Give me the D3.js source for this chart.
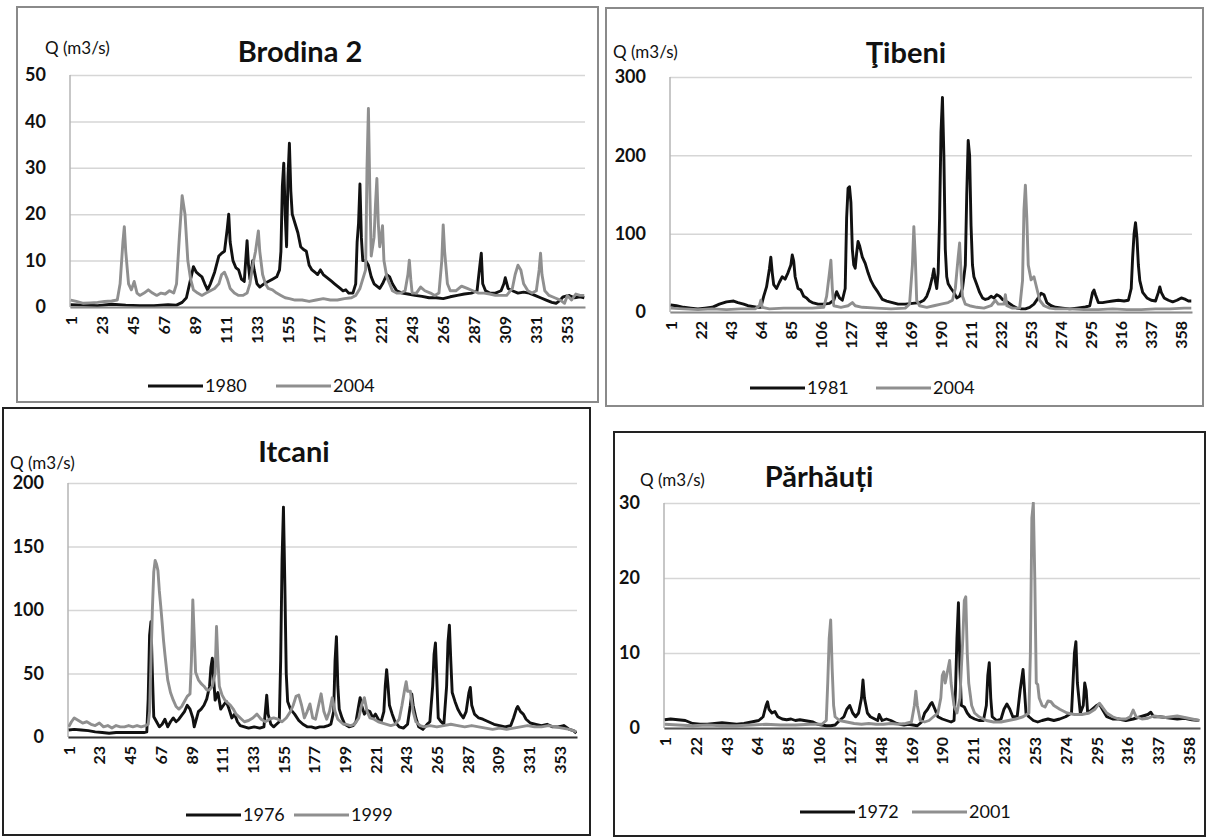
<!DOCTYPE html>
<html><head><meta charset="utf-8">
<script src="https://cdn.jsdelivr.net/npm/d3@7"></script>
<style>body{margin:0;background:#fff}</style>
</head><body>
<svg id="c" width="1207" height="837"></svg>
<script>
// ---------------- DATA (day of year, discharge m3/s) ----------------
const ticksA = [1,23,45,67,89,111,133,155,177,199,221,243,265,287,309,331,353];
const ticksB = [1,22,43,64,85,106,127,148,169,190,211,232,253,274,295,316,337,358];
const yTicksBrodina = [0,10,20,30,40,50];
const yTicksTibeni = [0,100,200,300];
const yTicksItcani = [0,50,100,150,200];
const yTicksParhauti = [0,10,20,30];

const brodina1980 = [[1,0.5],[10,0.4],[20,0.3],[30,0.6],[40,0.4],[50,0.3],[60,0.3],[70,0.5],[76,0.4],[80,1],[83,2],[86,6],[88,8.7],[90,7.5],[92,7],[94,6.5],[96,5],[98,3.7],[100,5],[103,7.5],[106,11],[108,11.6],[110,12],[112,17],[113,20],[114,14],[116,10],[118,8.5],[120,8],[122,6],[124,5.5],[126,14.3],[127,9],[128,6],[130,10],[131,8],[133,5],[135,4.3],[138,5],[141,5.5],[144,6],[147,6.5],[149,8],[150,12],[151,26],[152,31],[153,20],[154,13],[155,28],[156,35.3],[157,25],[158,20],[160,18],[162,16],[164,13],[166,12.4],[168,12],[170,9],[172,8],[174,7.5],[176,7],[178,8],[180,7],[182,6.5],[184,6],[186,5.5],[188,5],[190,4.5],[192,4],[194,3.5],[196,3.7],[198,3],[201,3],[203,5],[204,14],[205,18],[206,26.5],[207,15],[208,10],[210,10],[212,9],[214,6.5],[216,5],[218,4.5],[220,4],[222,5],[225,7],[227,6.5],[229,5],[232,3.5],[236,3],[240,2.8],[245,2.5],[250,2.3],[255,2],[260,2],[265,1.8],[270,2.2],[275,2.5],[280,2.8],[285,3],[289,3.5],[291,9],[292,11.6],[293,5],[295,3.5],[298,3],[302,3],[306,3.5],[308,5],[309,6.3],[311,4],[314,3.5],[318,3],[322,3.2],[326,3],[330,2.5],[334,2],[338,1.5],[342,1],[345,0.8],[348,1.5],[350,2.2],[354,2.5],[358,2],[362,2.2],[365,2]];
const brodina2004 = [[1,1.5],[5,1.2],[10,0.8],[15,0.9],[20,1],[25,1.2],[30,1.3],[34,1.5],[36,5],[38,14],[39,17.3],[40,12],[42,5],[44,3.7],[46,5.5],[48,3],[50,2.5],[53,3],[56,3.7],[59,3],[62,2.5],[65,3],[68,2.8],[71,3.5],[74,3],[76,5],[78,15],[80,24],[82,20],[84,10],[86,6],[88,3.7],[91,3],[94,2.5],[97,3],[100,3.5],[103,4],[106,5],[108,7],[110,7.5],[112,6],[114,4],[117,3],[120,2.5],[123,2.5],[126,3],[128,5],[130,9],[132,12],[134,16.4],[135,12],[137,7],[139,5],[141,4],[144,3.7],[147,3],[150,2.5],[153,2],[156,1.8],[160,1.5],[165,1.5],[170,1.2],[175,1.5],[180,1.8],[185,1.5],[190,1.5],[195,1.8],[200,2],[203,2.5],[206,4],[210,8],[211,30],[212,42.8],[213,25],[214,11],[216,15],[217,22],[218,27.7],[219,18],[220,13],[221,15],[222,17.5],[223,10],[225,6.5],[227,5],[229,3.5],[232,3],[235,3],[238,3.5],[240,7],[241,10.1],[242,6],[243,3],[246,3],[249,4.3],[252,3.5],[256,3],[259,2.5],[262,3],[264,10],[265,17.7],[266,12],[268,5],[270,3.5],[274,3.5],[278,4.5],[282,4],[286,3.5],[290,3],[294,3],[298,2.8],[302,2.5],[306,2.5],[310,2.5],[314,4],[316,7],[318,9],[320,8],[322,5],[325,3.5],[328,3],[331,3.5],[333,8],[334,11.6],[335,7],[337,3.5],[340,2.5],[344,2],[348,1.5],[351,0.8],[353,2.5],[356,1.5],[359,2.8],[362,2.5],[365,2.5]];

const tibeni1981 = [[1,9],[5,8],[10,6],[15,5],[20,4],[25,5],[30,6],[35,10],[40,13],[45,14],[48,12],[52,10],[55,8],[58,7],[61,6],[64,6],[66,20],[68,32],[70,55],[71,70],[72,50],[73,35],[75,30],[77,38],[79,45],[81,42],[83,50],[85,60],[86,72.8],[87,65],[88,45],[90,30],[92,28],[94,20],[96,18],[98,14],[100,12],[104,10],[108,10],[112,11],[115,15],[117,26],[119,18],[121,15],[123,30],[124,120],[125,158],[126,160],[127,140],[128,80],[129,60],[130,56],[131,75],[132,90],[133,85],[135,70],[137,62],[139,50],[141,40],[143,33],[146,25],[149,16],[152,14],[156,12],[160,10],[165,10],[170,11],[175,12],[178,15],[180,20],[182,30],[184,45],[185,55],[186,40],[187,30],[188,50],[189,120],[190,230],[191,274],[192,200],[193,80],[194,45],[195,36],[197,30],[199,25],[201,18],[203,20],[205,30],[207,60],[208,150],[209,219],[210,200],[211,110],[212,60],[213,45],[215,35],[217,25],[219,18],[221,16],[223,17],[225,20],[227,18],[229,22],[231,20],[233,16],[235,14],[237,12],[240,8],[243,5],[246,4],[249,4],[252,6],[255,10],[258,18],[260,24],[262,22],[264,12],[267,8],[270,6],[275,5],[280,4],[285,5],[290,6],[294,8],[296,25],[297,28],[298,22],[300,12],[303,12],[306,13],[310,14],[314,15],[318,14],[321,15],[323,30],[324,70],[325,100],[326,114],[327,95],[328,60],[329,40],[331,25],[334,18],[337,15],[340,14],[342,25],[343,32],[344,25],[346,18],[349,15],[352,13],[355,15],[358,18],[361,16],[363,14],[365,14]];
const tibeni2004 = [[1,5],[10,4],[20,3],[30,4],[40,3],[50,4],[60,4],[63,8],[64,15],[65,6],[70,4],[80,5],[90,5],[100,5],[108,6],[110,20],[112,50],[113,66],[114,30],[115,8],[120,6],[125,8],[128,12],[130,8],[135,6],[145,5],[155,4],[165,5],[168,10],[170,60],[171,109],[172,70],[173,15],[175,8],[180,6],[185,8],[190,10],[195,12],[198,15],[200,30],[202,70],[203,88],[204,50],[205,20],[207,10],[210,8],[215,6],[220,5],[225,8],[228,15],[230,10],[234,10],[235,22],[236,8],[240,5],[245,5],[247,40],[248,130],[249,162],[250,120],[251,60],[253,41],[255,45],[257,30],[259,15],[262,8],[266,5],[270,4],[280,4],[290,3],[300,3],[310,4],[320,3],[330,3],[340,4],[350,4],[360,5],[365,5]];

const itcani1976 = [[1,5.5],[5,6],[10,5.5],[15,5],[20,4],[25,3.5],[30,3],[35,3.5],[40,3.5],[45,3.5],[50,3.5],[55,3.5],[57,4],[58,30],[59,80],[60,90.8],[61,50],[62,16],[64,12],[66,8],[68,10],[70,14],[72,8],[74,12],[76,15],[78,12],[80,14],[82,17],[84,20],[86,25],[88,22],[90,15],[91,8],[92,12],[94,20],[96,22],[98,25],[100,30],[102,40],[103,55],[104,62],[105,45],[106,29],[108,35],[110,22],[112,25],[114,28],[116,22],[118,15],[120,18],[122,12],[124,9],[127,8],[130,7],[134,8],[138,7],[141,8],[142,20],[143,33],[144,18],[146,10],[148,8],[150,10],[152,12],[153,60],[154,140],[155,181],[156,120],[157,50],[158,28],[160,22],[163,18],[166,13],[169,10],[172,8],[175,8],[178,7],[181,8],[184,8],[187,9],[189,10],[191,20],[192,60],[193,79],[194,40],[195,22],[197,15],[199,10],[202,8],[205,9],[207,12],[209,25],[210,31],[211,25],[213,18],[215,21],[217,20],[219,15],[221,18],[223,14],[225,12],[227,20],[228,40],[229,53],[230,40],[231,25],[233,18],[235,12],[238,8],[241,7],[244,10],[246,25],[247,34],[248,25],[250,15],[252,8],[255,6],[258,10],[260,12],[262,40],[263,65],[264,74],[265,45],[266,15],[268,12],[270,10],[272,40],[273,75],[274,88],[275,60],[276,35],[278,28],[280,22],[282,18],[284,15],[286,20],[288,35],[289,39],[290,25],[292,18],[295,15],[298,14],[302,12],[306,10],[310,9],[314,8],[318,9],[320,15],[322,22],[323,24],[325,20],[327,18],[329,14],[332,11],[336,10],[340,9],[344,10],[348,8],[352,8],[356,9],[360,6],[363,5],[365,3]];
const itcani1999 = [[1,8],[3,12],[5,15],[8,13],[11,11],[14,12],[17,10],[20,9],[23,11],[26,8],[29,9],[32,7],[35,9],[38,8],[41,8],[44,9],[47,8],[50,9],[53,8],[56,9],[58,10],[59,20],[60,60],[61,100],[62,130],[63,139],[64,136],[65,131],[66,115],[67,103],[68,90],[69,76],[70,65],[71,55],[72,45],[74,35],[76,29],[78,24],[80,22],[82,24],[84,28],[86,32],[88,34],[89,60],[90,108],[91,80],[92,51],[94,45],[96,42],[98,40],[100,37],[102,37],[104,40],[106,50],[107,87],[108,60],[109,40],[111,33],[113,29],[115,27],[117,25],[119,22],[121,18],[123,16],[125,14],[127,12],[130,13],[133,15],[136,18],[139,14],[142,12],[145,14],[148,15],[151,14],[154,12],[157,15],[160,20],[162,25],[164,32],[166,33],[168,25],[170,15],[172,20],[174,26],[176,15],[178,14],[180,24],[182,34],[184,20],[186,14],[188,20],[190,31],[192,20],[194,14],[196,12],[198,10],[200,10],[203,9],[206,10],[209,15],[211,25],[213,31],[215,20],[217,15],[220,14],[223,12],[226,11],[229,10],[232,9],[235,10],[238,14],[240,25],[242,38],[243,43.5],[244,36],[246,36],[248,20],[250,12],[253,9],[256,8],[260,9],[265,8],[270,9],[275,10],[280,9],[285,8],[290,9],[295,8],[300,7],[305,6],[310,7],[315,6],[320,7],[325,8],[330,9],[335,8],[340,8],[345,9],[350,8],[355,7],[360,6],[363,5],[365,4]];

const parhauti1972 = [[1,1.1],[5,1.2],[10,1.1],[15,1],[20,0.6],[25,0.5],[30,0.5],[35,0.6],[40,0.7],[45,0.6],[50,0.5],[55,0.6],[60,0.8],[65,1],[68,1.5],[70,3],[71,3.5],[72,2.5],[74,2],[76,2.2],[78,1.5],[81,1.2],[84,1.1],[87,1.2],[90,1],[93,1.1],[96,1],[99,0.9],[102,0.8],[105,0.5],[108,0.4],[111,0.3],[114,0.3],[117,0.4],[120,1],[123,1.5],[125,2.5],[127,3],[129,2],[131,1.5],[133,2],[135,4],[136,6.4],[137,4],[139,2],[141,1.5],[144,1.2],[146,1],[147,1.8],[149,1],[152,1.2],[155,1],[158,0.7],[161,0.5],[164,0.4],[167,0.5],[170,0.4],[173,0.3],[176,0.8],[178,2],[180,2.5],[182,3.2],[183,3.4],[185,2.5],[187,1.5],[190,1.2],[193,1],[196,0.8],[198,1],[199,5],[200,12],[201,16.7],[202,8],[203,3],[205,2.8],[207,2],[209,1.5],[212,1.2],[215,1],[218,1],[220,3],[221,7],[222,8.7],[223,4],[224,1.5],[227,1],[230,1.2],[232,2.5],[234,3.2],[236,2.5],[238,1.5],[241,1.5],[243,5],[245,7.8],[246,5],[247,2],[249,1.5],[252,1],[255,0.8],[258,1],[262,1.2],[266,1],[270,1.2],[274,1.5],[278,2],[279,6],[280,10],[281,11.5],[282,6],[284,2],[286,3],[287,6],[288,5],[289,2],[292,2.5],[295,3],[297,3.2],[299,2.5],[302,1.5],[306,1.2],[310,1.2],[315,1],[320,1.2],[325,1.5],[330,1.8],[332,2.1],[334,1.5],[338,1.5],[342,1.4],[346,1.3],[350,1.2],[355,1.3],[360,1.1],[365,1]];
const parhauti2001 = [[1,0.5],[10,0.4],[20,0.3],[30,0.4],[40,0.3],[50,0.3],[60,0.4],[70,0.5],[80,0.4],[90,0.4],[100,0.5],[108,0.5],[111,1],[112,6],[113,12],[114,14.4],[115,8],[116,3],[117,1.5],[120,1],[125,0.8],[130,0.6],[135,0.5],[140,0.6],[145,0.5],[150,0.5],[155,0.6],[160,0.5],[165,0.6],[169,0.8],[171,3],[172,4.9],[173,3],[175,1],[178,0.8],[181,1],[184,1.5],[187,2],[189,4],[190,7],[191,7.5],[192,6],[194,8],[195,9],[196,6],[198,3],[200,2],[202,4],[204,12],[205,17],[206,17.5],[207,10],[208,6],[210,3],[212,2],[215,1.5],[220,1],[225,0.8],[230,0.8],[235,1],[240,1.2],[245,1.5],[249,2],[250,10],[251,28],[252,30],[253,20],[254,6],[255,5.8],[256,4],[258,3],[260,2.8],[262,3.6],[264,3.5],[266,3],[270,2.5],[275,2],[280,1.8],[285,1.8],[290,2],[294,2.5],[297,3.3],[299,2.8],[302,2],[306,1.5],[310,1.2],[315,1.2],[318,1.5],[320,2.4],[322,1.5],[326,1.2],[330,1.3],[334,1.6],[338,1.5],[342,1.4],[346,1.5],[350,1.6],[355,1.4],[360,1.2],[365,1]];

// ---------------- DRAWING ----------------
const FONT = "Lato, 'Open Sans', 'DejaVu Sans', sans-serif";
const BLACK = "#111", GREY = "#8f8f8f";
const svg = d3.select("#c");
svg.append("rect").attr("width",1207).attr("height",837).attr("fill","#fff");

const panels = [
  {title:"Brodina 2", tx:300, ty:62, qx:45, qy:54, box:[17,7,598,402], boxColor:"#8a8a8a",
   l:70, r:585, t:75, b:307, yMax:50, yTicks:yTicksBrodina, xTicks:ticksA, axisColor:"#8a8a8a",
   s:[["1980",brodina1980,BLACK],["2004",brodina2004,GREY]], lg:[148,276], ly:386},
  {title:"Ţibeni", tx:906, ty:63, qx:613, qy:58, box:[606,8,1203,406], boxColor:"#8a8a8a",
   l:670, r:1192, t:77, b:312, yMax:300, yTicks:yTicksTibeni, xTicks:ticksB, axisColor:"#8a8a8a",
   s:[["1981",tibeni1981,BLACK],["2004",tibeni2004,GREY]], lg:[750,876], ly:388},
  {title:"Itcani", tx:294, ty:462, qx:10, qy:469, box:[3,408,590,835], boxColor:"#222",
   l:68, r:577, t:483, b:737, yMax:200, yTicks:yTicksItcani, xTicks:ticksA, axisColor:"#333",
   s:[["1976",itcani1976,BLACK],["1999",itcani1999,GREY]], lg:[186,294], ly:815},
  {title:"Părhăuți", tx:819, ty:487, qx:640, qy:486, box:[614,432,1205,836], boxColor:"#222",
   l:664, r:1200, t:503, b:728, yMax:30, yTicks:yTicksParhauti, xTicks:ticksB, axisColor:"#555",
   s:[["1972",parhauti1972,BLACK],["2001",parhauti2001,GREY]], lg:[800,912], ly:812}
];

panels.forEach((p,i) => {
  const g = svg.append("g");
  g.append("rect").attr("x",p.box[0]).attr("y",p.box[1])
    .attr("width",p.box[2]-p.box[0]).attr("height",p.box[3]-p.box[1])
    .attr("fill","#fff").attr("stroke",p.boxColor).attr("stroke-width",2);

  const x = d3.scaleLinear().domain([0.5,365.5]).range([p.l,p.r]);
  const y = d3.scaleLinear().domain([0,p.yMax]).range([p.b,p.t]);

  // y axis + gridlines
  const ya = g.append("g").attr("transform",`translate(${p.l},0)`)
    .call(d3.axisLeft(y).tickValues(p.yTicks).tickSize(-(p.r-p.l)).tickPadding(24));
  ya.select(".domain").remove();
  ya.selectAll(".tick line").attr("stroke","#d6d6d6").attr("stroke-width",1.5);
  ya.selectAll(".tick text").attr("font-family",FONT).attr("font-size",18)
    .attr("font-weight",700).attr("fill","#111");
  g.append("line").attr("x1",p.l).attr("x2",p.l).attr("y1",p.t).attr("y2",p.b)
    .attr("stroke","#b5b5b5").attr("stroke-width",1.5);

  // clip
  const cid = "clip"+i;
  g.append("clipPath").attr("id",cid).append("rect")
    .attr("x",p.l).attr("y",p.t-1).attr("width",p.r-p.l).attr("height",p.b-p.t+2);

  const line = d3.line().x(d=>x(d[0])).y(d=>y(d[1]));
  const lg = g.append("g").attr("clip-path",`url(#${cid})`);
  p.s.forEach(([name,data,color]) => {
    lg.append("path").datum(data).attr("d",line).attr("fill","none")
      .attr("stroke",color).attr("stroke-width",2.9).attr("stroke-linejoin","round");
  });

  // x axis
  const xa = g.append("g").attr("transform",`translate(0,${p.b})`)
    .call(d3.axisBottom(x).tickValues(p.xTicks).tickSize(0));
  xa.select(".domain").attr("stroke",p.axisColor).attr("stroke-width",2.2);
  xa.selectAll(".tick text").attr("font-family",FONT).attr("font-size",16)
    .attr("font-weight",700).attr("fill","#111")
    .attr("transform","rotate(-90)").attr("text-anchor","end")
    .attr("x",-9).attr("y",0).attr("dy","0.35em");

  // title and unit
  g.append("text").attr("x",p.tx).attr("y",p.ty).attr("text-anchor","middle")
    .attr("font-family",FONT).attr("font-size",29).attr("font-weight",700)
    .attr("fill","#111").text(p.title);
  g.append("text").attr("x",p.qx).attr("y",p.qy)
    .attr("font-family",FONT).attr("font-size",17).attr("fill","#111").text("Q (m3/s)");

  // legend
  p.s.forEach(([name,data,color],k) => {
    const lx = p.lg[k];
    g.append("line").attr("x1",lx).attr("x2",lx+55).attr("y1",p.ly).attr("y2",p.ly)
      .attr("stroke",color).attr("stroke-width",3.2);
    g.append("text").attr("x",lx+57).attr("y",p.ly).attr("dy","0.35em")
      .attr("font-family",FONT).attr("font-size",18).attr("fill","#111").text(name);
  });
});
</script>
</body></html>
